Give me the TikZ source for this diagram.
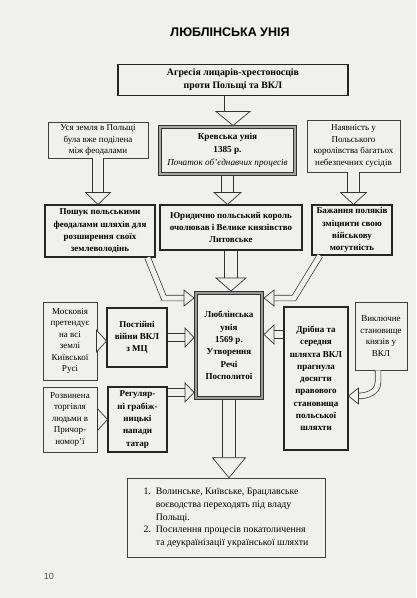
\documentclass[tikz,border=0pt]{standalone}
\usepackage{fontspec}
\setmainfont{Liberation Serif}
\newfontfamily\headfont{Liberation Sans}
\usetikzlibrary{calc}
\definecolor{paper}{RGB}{240,240,238}

% hollow arrows: #1 start, #2 tip, #3 shaft gap, #4 half head width, #5 head length
\newcommand{\hdown}[5]{%
  \draw[hshaft=#3] (#1) -- ($(#2)+(0,-#5)$);
  \filldraw[hhead] (#2) -- ++(-#4,-#5) -- ++({2*#4},0) -- cycle;}
\newcommand{\hright}[5]{%
  \draw[hshaft=#3] (#1) -- ($(#2)+(-#5,0)$);
  \filldraw[hhead] (#2) -- ++(-#5,-#4) -- ++(0,{2*#4}) -- cycle;}
\newcommand{\hleft}[5]{%
  \draw[hshaft=#3] (#1) -- ($(#2)+(#5,0)$);
  \filldraw[hhead] (#2) -- ++(#5,-#4) -- ++(0,{2*#4}) -- cycle;}

\begin{document}
\begin{tikzpicture}[x=1pt, y=-1pt,
        sz/.style 2 args = {minimum width=#1pt, minimum height=#2pt},
        thinbox/.style  = {rectangle, draw=black!75, line width=0.6pt, align=center, inner sep=2pt, font=\fontsize{9}{11.5}\selectfont},
        boldbox/.style  = {rectangle, draw=black!85, line width=1.1pt, align=center, inner sep=2pt, font=\fontsize{9}{12.3}\selectfont\bfseries},
        krevbox/.style  = {rectangle, draw=black!80, line width=1pt, double=black!35, double distance=1.2pt, outer sep=1.5pt, align=center, inner sep=2pt, font=\fontsize{9.2}{12.8}\selectfont},
        lublbox/.style  = {rectangle, draw=black!80, line width=1.1pt, double=black!40, double distance=1.6pt, outer sep=2pt, align=center, inner sep=2pt, font=\fontsize{9}{12.4}\selectfont\bfseries},
        hshaft/.style   = {draw=black!80, line width=0.7pt, double=paper, double distance=#1},
        hhead/.style    = {draw=black!80, fill=paper, line width=0.7pt, line join=miter}
    ]

    \fill[paper] (0,0) rectangle (416,598);

    % --- TITLE ---
    \node[font=\headfont\bfseries\fontsize{12.5}{14}\selectfont] (title) at (230,32) {ЛЮБЛІНСЬКА УНІЯ};

    % --- TOP ROWS ---
    \node[boldbox, line width=1.8pt, sz={230}{31}, font=\fontsize{9.8}{12.8}\selectfont\bfseries] (agr) at (233,80)
        {Агресія лицарів-хрестоносців\\проти Польщі та ВКЛ};

    \node[thinbox, sz={100}{36}] (zem) at (98,140) {Уся земля в Польщі\\була вже поділена\\між феодалами};
    \node[krevbox, sz={135}{47}] (krev) at (227.5,150.5)
        {\textbf{Кревська унія}\\\textbf{1385 р.}\\\textit{Початок об’єднавчих процесів}};
    \node[thinbox, sz={93}{52}] (nayav) at (353.5,146) {Наявність у\\Польського\\королівства багатьох\\небезпечних сусідів};

    \node[boldbox, sz={110}{52}] (poshuk) at (100,231) {Пошук польськими\\феодалами шляхів для\\розширення своїх\\землеволодінь};
    \node[boldbox, sz={142}{45}] (yuryd) at (231,227.5) {Юридично польський король\\очолював і Велике князівство\\Литовське};
    \node[boldbox, sz={80}{50}] (bazh) at (352,230) {Бажання поляків\\зміцнити свою\\військову\\могутність};

    % --- CENTRE ---
    \node[lublbox, sz={66}{105}] (lublin) at (229,345.5) {Люблінська\\унія\\1569 р.\\Утворення\\Речі\\Посполитої};

    % --- LEFT SIDE ---
    \node[thinbox, sz={54}{78}] (moskv) at (70,341) {Московія\\претендує\\на всі\\землі\\Київської\\Русі};
    \node[boldbox, sz={60}{59}] (viyny) at (137,337.5) {Постійні\\війни ВКЛ\\з МЦ};
    \node[thinbox, sz={54}{65}] (torg) at (70,419.5) {Розвинена\\торгівля\\людьми в\\Причор-\\номор’ї};
    \node[boldbox, sz={59}{65}] (tatar) at (137.5,419.5) {Регуляр-\\ні грабіж-\\ницькі\\напади\\татар};

    % --- RIGHT SIDE ---
    \node[boldbox, sz={64}{143}] (drib) at (316,378.5) {Дрібна та\\середня\\шляхта ВКЛ\\прагнула\\досягти\\правового\\становища\\польської\\шляхти};
    \node[thinbox, sz={52}{68}] (vykl) at (381,336) {Виключне\\становище\\князів у\\ВКЛ};

    % --- RESULT ---
    \node[thinbox, sz={198}{79}, font=\fontsize{9.8}{12.6}\selectfont] (result) at (226,517.5)
        {\begin{tabular}{@{}r@{\ \ }l@{}}
         1. & Волинське, Київське, Брацлавське\\
            & воєводства переходять під владу\\
            & Польщі.\\
         2. & Посилення процесів покатоличення\\
            & та деукраїнізації української шляхти
         \end{tabular}};

    \node[font=\headfont\fontsize{9}{10}\selectfont, text=black!70] (pnum) at (49,576) {10};

    % --- HOLLOW ARROWS ---
    \hdown{agr.south}{agr.south |- krev.north}{17pt}{17}{14}
    \hdown{zem.south}{zem.south |- poshuk.north}{10pt}{12.5}{12}
    \hdown{krev.south}{krev.south |- yuryd.north}{11pt}{13.5}{12}
    \hdown{nayav.south}{nayav.south |- bazh.north}{11pt}{13}{12}
    \hdown{yuryd.south}{yuryd.south |- lublin.north}{12pt}{15}{13}
    \hdown{lublin.south}{lublin.south |- result.north}{12pt}{16.5}{20}

    \hright{moskv.east}{moskv.east -| viyny.west}{7pt}{11}{10}
    \hright{viyny.east}{viyny.east -| lublin.west}{7pt}{9.5}{9}
    \hright{torg.east}{torg.east -| tatar.west}{7pt}{11}{10}
    \coordinate (t11) at ($(tatar.north east)+(0,6)$);
    \hright{t11}{t11 -| lublin.west}{7pt}{9.5}{9}
    \coordinate (d12) at ($(drib.north west)+(0,28)$);
    \hleft{d12}{d12 -| lublin.east}{7pt}{9.5}{10}

    % bent arrows into the centre
    \coordinate (tipL) at ($(lublin.north west)+(0,7)$);
    \draw[hshaft=5pt] ($(poshuk.south east)+(-8,0)$) -- ($(tipL)+(-30,0)$) -- ($(tipL)+(-10,0)$);
    \filldraw[hhead] (tipL) -- ++(-10,-8) -- ++(0,16) -- cycle;

    \coordinate (tipR) at ($(lublin.north east)+(0,7)$);
    \draw[hshaft=5pt] ($(bazh.south)+(-32,0)$) -- ($(tipR)+(30,0)$) -- ($(tipR)+(10,0)$);
    \filldraw[hhead] (tipR) -- ++(10,-8) -- ++(0,16) -- cycle;

    % curved arrow from vykl
    \coordinate (tipC) at (drib.east |- 0,396);
    \draw[hshaft=5pt] ($(vykl.south)+(-3,0)$) -- ++(0,12) .. controls +(0,10) and +(8,0) .. ($(tipC)+(10,0)$);
    \filldraw[hhead] (tipC) -- ++(10,-8) -- ++(0,16) -- cycle;

\end{tikzpicture}
\end{document}
